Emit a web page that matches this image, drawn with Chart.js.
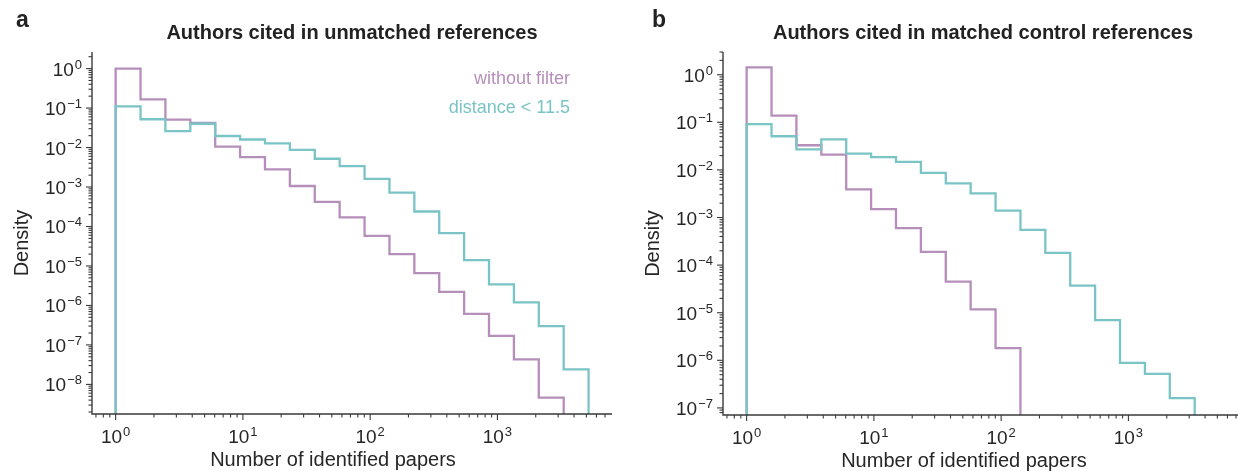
<!DOCTYPE html>
<html>
<head>
<meta charset="utf-8">
<script src="https://cdn.jsdelivr.net/npm/chart.js@4.4.1/dist/chart.umd.min.js"></script>
<style>
  html, body { margin: 0; padding: 0; background: #fff; overflow: hidden; }
  #wrap { position: relative; width: 1238px; height: 471px; overflow: hidden; }
  .panel { position: absolute; top: 0; height: 471px; }
  #pa { left: 0; width: 620px; }
  #pb { left: 620px; width: 640px; }
</style>
</head>
<body>
<div id="wrap">
  <div class="panel" id="pa"><canvas id="chartA"></canvas></div>
  <div class="panel" id="pb"><canvas id="chartB"></canvas></div>
</div>
<script>
// histogram bin edges (log spaced), shared by both panels
const binEdges = [1, 1.569, 2.461, 3.862, 6.059, 9.505, 14.91, 23.40, 36.71, 57.59,
  90.36, 141.8, 222.4, 348.9, 547.5, 858.9, 1348, 2114, 3317, 5204];

// panel a: authors cited in unmatched references
const unmatchedNoFilter = [1.0, 0.165, 0.051, 0.042, 0.0105, 0.0057, 0.0028, 0.00106, 4.2e-4,
  1.7e-4, 5.8e-5, 2.0e-5, 6.6e-6, 2.2e-6, 6.1e-7, 1.7e-7, 4.3e-8, 4.6e-9];
const unmatchedDistance = [0.11, 0.052, 0.026, 0.040, 0.0196, 0.016, 0.0128, 0.0087, 0.0052,
  0.0034, 0.0016, 7.2e-4, 2.4e-4, 6.8e-5, 1.4e-5, 3.4e-6, 1.2e-6, 3.0e-7, 2.4e-8];

// panel b: authors cited in matched control references
const controlNoFilter = [1.43, 0.138, 0.033, 0.021, 0.0039, 0.0015, 6.0e-4, 1.9e-4, 4.5e-5,
  1.18e-5, 1.8e-6];
const controlDistance = [0.092, 0.051, 0.027, 0.044, 0.022, 0.0186, 0.0147, 0.0087, 0.0052,
  0.0032, 0.0014, 5.5e-4, 1.8e-4, 3.7e-5, 7.0e-6, 8.8e-7, 5.2e-7, 1.6e-7];

const seriesLabels = ['without filter', 'distance < 11.5'];
const xTickExp = [0, 1, 2, 3];
const yTickExpA = [0, -1, -2, -3, -4, -5, -6, -7, -8];
const yTickExpB = [0, -1, -2, -3, -4, -5, -6, -7];

const PURPLE = 'rgb(181,143,186)';
const CYAN = 'rgb(122,196,198)';
const INK = '#262626';
const FONT = '"Liberation Sans", Arial, Helvetica, sans-serif';

function stepPoints(values, floor) {
  const pts = [{ x: binEdges[0], y: floor }];
  values.forEach((v, i) => pts.push({ x: binEdges[i], y: v }));
  pts.push({ x: binEdges[values.length], y: floor });
  return pts;
}

function logTicks(min, max) {
  const out = [];
  for (let e = Math.floor(Math.log10(min)); e <= Math.ceil(Math.log10(max)); e++) {
    for (let m = 1; m <= 9; m++) {
      const v = m * Math.pow(10, e);
      if (v >= min && v <= max) out.push({ v: v, major: m === 1 });
    }
  }
  return out;
}

function drawPow(ctx, exp, x, y, align) {
  const sup = exp < 0 ? '\u2212' + Math.abs(exp) : String(exp);
  ctx.font = '19px ' + FONT;
  const w1 = ctx.measureText('10').width;
  ctx.font = '13px ' + FONT;
  const w2 = ctx.measureText(sup).width;
  const total = w1 + w2 + 1;
  let start = align === 'right' ? x - total : x - total / 2;
  ctx.textAlign = 'left';
  ctx.textBaseline = 'alphabetic';
  ctx.font = '19px ' + FONT;
  ctx.fillText('10', start, y);
  ctx.font = '13px ' + FONT;
  ctx.fillText(sup, start + w1 + 1, y - 7);
}

const axesPlugin = {
  id: 'mplAxes',
  afterDraw(chart, args, o) {
    const { ctx, chartArea: a } = chart;
    const x = chart.scales.x, y = chart.scales.y;
    ctx.save();
    ctx.strokeStyle = '#3a3a3a';
    ctx.fillStyle = INK;
    ctx.lineWidth = 1.4;
    ctx.beginPath();
    ctx.moveTo(a.left, a.top);
    ctx.lineTo(a.left, a.bottom);
    ctx.lineTo(a.right, a.bottom);
    ctx.stroke();

    ctx.lineWidth = 1.1;
    logTicks(x.min, x.max).forEach(t => {
      const px = x.getPixelForValue(t.v);
      ctx.beginPath();
      ctx.moveTo(px, a.bottom);
      ctx.lineTo(px, a.bottom + (t.major ? 6 : 3.5));
      ctx.stroke();
    });
    logTicks(y.min, y.max).forEach(t => {
      const py = y.getPixelForValue(t.v);
      ctx.beginPath();
      ctx.moveTo(a.left, py);
      ctx.lineTo(a.left - (t.major ? 6 : 3.5), py);
      ctx.stroke();
    });

    xTickExp.forEach(e => drawPow(ctx, e, x.getPixelForValue(Math.pow(10, e)), a.bottom + 29, 'center'));
    o.yExp.forEach(e => drawPow(ctx, e, a.left - 10, y.getPixelForValue(Math.pow(10, e)) + 7, 'right'));

    // axis titles
    ctx.font = '20px ' + FONT;
    ctx.textAlign = 'center';
    ctx.textBaseline = 'alphabetic';
    ctx.fillText('Number of identified papers', (a.left + a.right) / 2 - 19, a.bottom + 52);
    ctx.save();
    ctx.translate(a.left - 64, (a.top + a.bottom) / 2 + 10);
    ctx.rotate(-Math.PI / 2);
    ctx.fillText('Density', 0, 0);
    ctx.restore();

    // panel title and letter
    ctx.fillStyle = '#222';
    ctx.font = 'bold 20px ' + FONT;
    ctx.fillText(o.title, (a.left + a.right) / 2, 39);
    ctx.textAlign = 'left';
    ctx.font = 'bold 23px ' + FONT;
    ctx.fillText(o.letter, o.letterX, 27);

    if (o.legend) {
      ctx.font = '18px ' + FONT;
      ctx.textAlign = 'right';
      ctx.fillStyle = PURPLE;
      ctx.fillText(seriesLabels[0], a.right - 42, a.top + 32);
      ctx.fillStyle = CYAN;
      ctx.fillText(seriesLabels[1], a.right - 42, a.top + 61);
    }
    ctx.restore();
  }
};

function makeChart(id, noFilter, distance, cfg) {
  const floor = cfg.ymin / 100;
  new Chart(document.getElementById(id), {
    type: 'line',
    data: {
      datasets: [
        { label: seriesLabels[1], data: stepPoints(distance, floor), borderColor: CYAN,
          borderWidth: 2.3, stepped: 'before', pointRadius: 0, fill: false },
        { label: seriesLabels[0], data: stepPoints(noFilter, floor), borderColor: PURPLE,
          borderWidth: 2.3, stepped: 'before', pointRadius: 0, fill: false }
      ]
    },
    options: {
      responsive: true,
      maintainAspectRatio: false,
      animation: false,
      parsing: false,
      layout: { padding: cfg.padding },
      scales: {
        x: { type: 'logarithmic', min: 0.652, max: 7950, display: false },
        y: { type: 'logarithmic', min: cfg.ymin, max: cfg.ymax, display: false }
      },
      plugins: {
        legend: { display: false },
        tooltip: { enabled: false },
        mplAxes: cfg.axes
      }
    },
    plugins: [axesPlugin]
  });
}

makeChart('chartA', unmatchedNoFilter, unmatchedDistance, {
  ymin: 1.78e-9, ymax: 2.63,
  padding: { left: 92, right: 8, top: 52, bottom: 57 },
  axes: { title: 'Authors cited in unmatched references', letter: 'a', letterX: 16, yExp: yTickExpA, legend: true }
});

makeChart('chartB', controlNoFilter, controlDistance, {
  ymin: 7.1e-8, ymax: 3.0,
  padding: { left: 103, right: 17, top: 52, bottom: 56 },
  axes: { title: 'Authors cited in matched control references', letter: 'b', letterX: 32, yExp: yTickExpB, legend: false }
});
</script>
</body>
</html>
